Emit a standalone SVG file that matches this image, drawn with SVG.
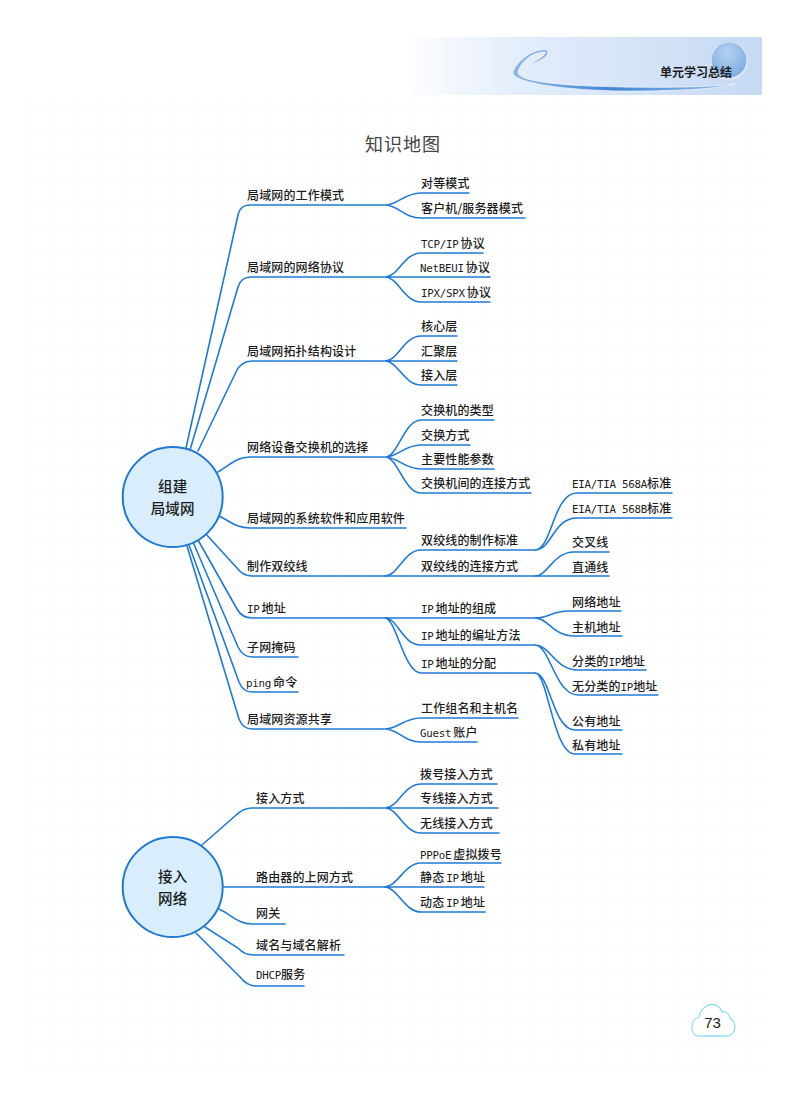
<svg xmlns="http://www.w3.org/2000/svg" width="800" height="1102" viewBox="0 0 800 1102">
<style>
text{font-family:"Noto Sans CJK SC","Noto Sans",sans-serif;font-size:12px;font-weight:500;letter-spacing:.15px;fill:#1c1c1c}
.m{font-family:"DejaVu Sans Mono","Noto Sans CJK SC",monospace;font-size:10.8px;font-weight:400;letter-spacing:-.25px}
.c{fill:none;stroke:#1f7ad6;stroke-width:1.6;stroke-linecap:round}
.hub{fill:#d8eefc;stroke:#2079d2;stroke-width:2}
.ht{font-size:14.5px;text-anchor:middle}
</style>
<defs>
<pattern id="grid" width="24" height="24" patternUnits="userSpaceOnUse" x="6" y="11"><path d="M24 0H0V24" fill="none" stroke="#f3fbfd" stroke-width="1"/></pattern>
<linearGradient id="band" x1="0" x2="1" y1="0" y2="0"><stop offset="0" stop-color="#fff"/><stop offset=".32" stop-color="#e4eefb"/><stop offset="1" stop-color="#c5d9f4"/></linearGradient>
<radialGradient id="globe" cx=".45" cy=".3" r=".75"><stop offset="0" stop-color="#b4d2ef"/><stop offset="1" stop-color="#7aa9e0"/></radialGradient>
<linearGradient id="sw" x1="0" x2="1" y1="0" y2="0"><stop offset="0" stop-color="#8db6e6"/><stop offset=".45" stop-color="#3f86d6"/><stop offset="1" stop-color="#9dbfe9"/></linearGradient>
</defs>
<rect width="800" height="1102" fill="#fff"/>
<rect x="30" y="95" width="740" height="980" fill="url(#grid)"/>
<g id="header">
<rect x="400" y="37" width="362" height="58" fill="url(#band)"/>
<circle cx="729" cy="61" r="19" fill="#dbe8f8"/>
<circle cx="729" cy="60" r="17.5" fill="url(#globe)"/>
<path d="M547 50C533 48 516 62 513 72C511 82 560 90 620 91C670 91.500 720 89 735 84C700 88 640 88 590 86C545 84 518 80 518 72C521 60 535 51 546 52C545 56 535 62 526 66C540 62 551 55 547 50Z" fill="url(#sw)" stroke="#f4f8fd" stroke-width=".7"/>
<text x="660" y="77" style="font-size:12px;font-weight:700;letter-spacing:0;font-family:'Noto Sans CJK SC',serif">单元学习总结</text>
</g>
<text id="title" x="365" y="151" style="font-size:18px;font-weight:400;letter-spacing:1px;fill:#444">知识地图</text>
<g id="connectors">
<path class="c" d="M186 448L238 215Q240 205 250 205H384"/>
<path class="c" d="M190 450L238 287Q241 277 251 277H384"/>
<path class="c" d="M198 451L236 372Q241 361 252 361H384"/>
<path class="c" d="M218 472C230 465 236 457 250 457H384"/>
<path class="c" d="M219 516C230 521 236 528 250 528H406"/>
<path class="c" d="M205 533L237 568Q243 576 252 576H609"/>
<path class="c" d="M198 540L237 609Q242 618 252 618H535"/>
<path class="c" d="M193 542L238 647Q243 657 252 657H298"/>
<path class="c" d="M189 545L239 682Q243 692 252 692H298"/>
<path class="c" d="M187 546L239 719Q243 729 252 729H384"/>
<path class="c" d="M385 205C398 205 404 193 421 193H469M385 205C398 205 404 218 421 218H525"/>
<path class="c" d="M385 277C398 277 404 253 421 253H483M385 277H490M385 277C398 277 404 302 421 302H490"/>
<path class="c" d="M385 361C398 361 404 336 421 336H457M385 361H457M385 361C398 361 404 385 421 385H457"/>
<path class="c" d="M385 457C398 457 404 420 421 420H494M385 457C398 457 404 445 421 445H470M385 457C398 457 404 469 421 469H494M385 457C398 457 404 493 421 493H531"/>
<path class="c" d="M385 576C398 576 404 550 421 550H535"/>
<path class="c" d="M535 550C552 550 553 493 577 493H672M535 550C552 550 553 518 577 518H672M535 576C548 576 553 552 574 552H609"/>
<path class="c" d="M535 618C548 618 553 611 568 611H621M535 618C548 618 553 636 574 636H622"/>
<path class="c" d="M385 618C398 618 402 645 421 645H535M385 618C396 618 404 673 421 673H535"/>
<path class="c" d="M535 645C550 645 555 670 578 670H646M535 645C550 645 555 695 578 695H658"/>
<path class="c" d="M535 673C550 673 553 730 575 730H622M535 673C548 673 553 754 575 754H622"/>
<path class="c" d="M385 729C398 729 404 718 421 718H518M385 729C398 729 404 742 421 742H477"/>
<path class="c" d="M202 845L235 816Q243 808 252 808H384"/>
<path class="c" d="M223 887H384"/>
<path class="c" d="M219 909C232 915 238 924 252 924H285"/>
<path class="c" d="M205 927L238 948Q244 955 254 955H344"/>
<path class="c" d="M196 933L240 977Q247 986 256 986H304"/>
<path class="c" d="M385 808C398 808 404 784 421 784H497M385 808H498M385 808C398 808 404 833 421 833H499"/>
<path class="c" d="M384 887C398 887 404 863 421 863H501M384 887H484M384 887C398 887 404 912 421 912H485"/>
</g>
<g id="hub1"><circle class="hub" cx="172.7" cy="497" r="50"/><text class="ht" x="172.7" y="492">组建</text><text class="ht" x="172.7" y="514">局域网</text></g>
<g id="hub2"><circle class="hub" cx="172.7" cy="887" r="50"/><text class="ht" x="172.7" y="882">接入</text><text class="ht" x="172.7" y="904">网络</text></g>
<g id="labels" transform="translate(0 .8)">
<g id="n1"><text x="247" y="199">局域网的工作模式</text></g>
<g id="n2"><text x="247" y="271">局域网的网络协议</text></g>
<g id="n3"><text x="247" y="355">局域网拓扑结构设计</text></g>
<g id="n4"><text x="247" y="451">网络设备交换机的选择</text></g>
<g id="n5"><text x="247" y="522">局域网的系统软件和应用软件</text></g>
<g id="n6"><text x="247" y="570">制作双绞线</text></g>
<g id="n7"><text x="247" y="612"><tspan class="m">IP</tspan><tspan dx="2">地址</tspan></text></g>
<g id="n8"><text x="247" y="651">子网掩码</text></g>
<g id="n9"><text x="246" y="686"><tspan class="m">ping</tspan><tspan dx="2">命令</tspan></text></g>
<g id="n10"><text x="247" y="723">局域网资源共享</text></g>
<g id="n11"><text x="421" y="187">对等模式</text></g>
<g id="n12"><text x="421" y="212">客户机/服务器模式</text></g>
<g id="n13"><text x="421" y="247"><tspan class="m">TCP/IP</tspan><tspan dx="2">协议</tspan></text></g>
<g id="n14"><text x="420" y="271"><tspan class="m">NetBEUI</tspan><tspan dx="2">协议</tspan></text></g>
<g id="n15"><text x="421" y="296"><tspan class="m">IPX/SPX</tspan><tspan dx="2">协议</tspan></text></g>
<g id="n16"><text x="421" y="330">核心层</text></g>
<g id="n17"><text x="421" y="355">汇聚层</text></g>
<g id="n18"><text x="421" y="379">接入层</text></g>
<g id="n19"><text x="421" y="414">交换机的类型</text></g>
<g id="n20"><text x="421" y="439">交换方式</text></g>
<g id="n21"><text x="421" y="463">主要性能参数</text></g>
<g id="n22"><text x="421" y="487">交换机间的连接方式</text></g>
<g id="n23"><text x="572" y="487"><tspan class="m">EIA/TIA 568A</tspan>标准</text></g>
<g id="n24"><text x="572" y="512"><tspan class="m">EIA/TIA 568B</tspan>标准</text></g>
<g id="n25"><text x="421" y="544">双绞线的制作标准</text></g>
<g id="n26"><text x="421" y="570">双绞线的连接方式</text></g>
<g id="n27"><text x="572" y="546">交叉线</text></g>
<g id="n28"><text x="572" y="571">直通线</text></g>
<g id="n29"><text x="421" y="612"><tspan class="m">IP</tspan><tspan dx="2">地址的组成</tspan></text></g>
<g id="n30"><text x="421" y="639"><tspan class="m">IP</tspan><tspan dx="2">地址的编址方法</tspan></text></g>
<g id="n31"><text x="421" y="667"><tspan class="m">IP</tspan><tspan dx="2">地址的分配</tspan></text></g>
<g id="n32"><text x="572" y="606">网络地址</text></g>
<g id="n33"><text x="572" y="631">主机地址</text></g>
<g id="n34"><text x="572" y="665">分类的<tspan class="m">IP</tspan>地址</text></g>
<g id="n35"><text x="572" y="690">无分类的<tspan class="m">IP</tspan>地址</text></g>
<g id="n36"><text x="572" y="725">公有地址</text></g>
<g id="n37"><text x="572" y="749">私有地址</text></g>
<g id="n38"><text x="421" y="712">工作组名和主机名</text></g>
<g id="n39"><text x="420" y="736"><tspan class="m">Guest</tspan><tspan dx="2">账户</tspan></text></g>
<g id="n40"><text x="256" y="802">接入方式</text></g>
<g id="n41"><text x="256" y="881">路由器的上网方式</text></g>
<g id="n42"><text x="256" y="917">网关</text></g>
<g id="n43"><text x="256" y="949">域名与域名解析</text></g>
<g id="n44"><text x="256" y="978"><tspan class="m">DHCP</tspan>服务</text></g>
<g id="n45"><text x="420" y="778">拨号接入方式</text></g>
<g id="n46"><text x="420" y="802">专线接入方式</text></g>
<g id="n47"><text x="420" y="827">无线接入方式</text></g>
<g id="n48"><text x="420" y="858"><tspan class="m">PPPoE</tspan><tspan dx="2">虚拟拨号</tspan></text></g>
<g id="n49"><text x="420" y="881">静态<tspan class="m" dx="2">IP</tspan><tspan dx="2">地址</tspan></text></g>
<g id="n50"><text x="420" y="906">动态<tspan class="m" dx="2">IP</tspan><tspan dx="2">地址</tspan></text></g>
</g>
<g id="page">
<path d="M699 1036C693 1036 691.500 1030 692 1026C692 1021 696 1018 699 1017C700 1010 706 1004.500 712 1004.500C717 1004.500 721 1008 722 1012C727 1011 730 1015 729.500 1018C733 1020 735 1023 735 1027C735 1032 731 1036 727 1036Z" fill="#fff" stroke="#8fe0f0" stroke-width="1.300"/>
<text x="712.500" y="1028" text-anchor="middle" style="font-family:'Liberation Sans',sans-serif;font-size:15px;font-weight:400;letter-spacing:0">73</text>
</g>
</svg>
